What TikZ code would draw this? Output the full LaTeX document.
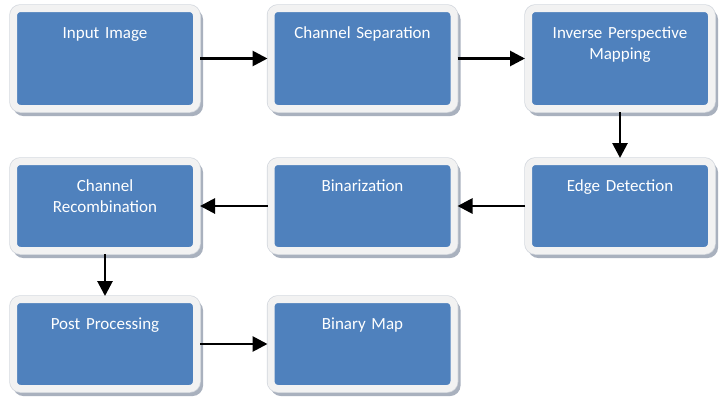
\documentclass[tikz,border=0pt]{standalone}
\usepackage{fontspec}
\setmainfont{Carlito}
\usetikzlibrary{arrows.meta}
\definecolor{boxblue}{HTML}{4F81BD}
\definecolor{framegray}{HTML}{F2F2F2}
\definecolor{shadegray}{HTML}{A9B1BE}
\definecolor{rimgray}{HTML}{D3D7DD}
\tikzset{
  stage/.style={rectangle, rounded corners=7pt, fill=boxblue, draw=framegray, line width=7pt,
    minimum width=183pt, text width=170pt, align=center, inner ysep=15pt,
    text height=15pt, text depth=55pt, text=white,
    font=\fontsize{17}{21}\selectfont,
    preaction={draw=shadegray, fill=shadegray, line width=7pt, transform canvas={shift={(3pt,-4pt)}}},
    preaction={draw=rimgray, line width=8.5pt}},
  stageshort/.style={stage, text depth=44pt},
  flow/.style={line width=2.8pt, -{Triangle[length=15pt,width=15pt]}}
}
\begin{document}
\begin{tikzpicture}[x=1pt,y=-1pt]
\useasboundingbox (0,0) rectangle (725,399);
% first row
\node[stage] (in_img) at (105, 58.5) {Input Image};
\node[stage] (ch_sep) at (362.5, 58.5) {Channel Separation};
\node[stage] (ipm) at (620, 58.5) {Inverse Perspective\\Mapping};
% second row
\node[stageshort] (ch_rec) at (105, 206) {Channel\\Recombination};
\node[stageshort] (binar) at (362.5, 206) {Binarization};
\node[stageshort] (edge) at (620, 206) {Edge Detection};
% third row
\node[stageshort] (post) at (105, 344) {Post Processing};
\node[stageshort] (bin_map) at (362.5, 344) {Binary Map};
% arrows
\draw[flow] (in_img) -- (ch_sep);
\draw[flow] (ch_sep) -- (ipm);
\draw[flow] (ipm) -- (edge);
\draw[flow] (edge) -- (binar);
\draw[flow] (binar) -- (ch_rec);
\draw[flow] (ch_rec) -- (post);
\draw[flow] (post) -- (bin_map);
\end{tikzpicture}
\end{document}
